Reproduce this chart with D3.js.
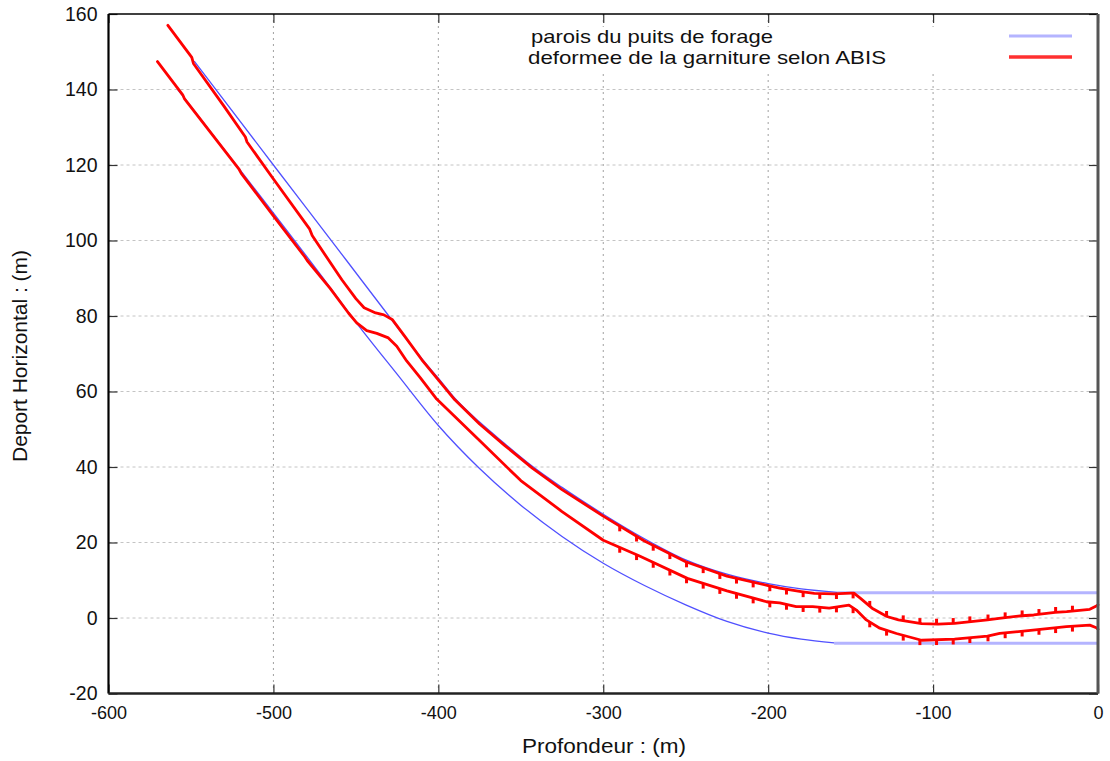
<!DOCTYPE html>
<html><head><meta charset="utf-8">
<script src="https://cdn.jsdelivr.net/npm/d3@7"></script>
<style>
body{margin:0;background:#fff}
svg{display:block}
text{font-family:"Liberation Sans",Arial,sans-serif;fill:#111}
</style>
</head><body>
<svg id="chart" width="1110" height="761"></svg>
<script>
// ---------- data ----------
const xTicks = [-600, -500, -400, -300, -200, -100, 0];
const yTicks = [-20, 0, 20, 40, 60, 80, 100, 120, 140, 160];
const xLabel = "Profondeur : (m)";
const yLabel = "Deport Horizontal : (m)";
const legendLabels = ["parois du puits de forage", "deformee de la garniture selon ABIS"];

// well-bore walls (profondeur, deport)
const wallUpper = [
  [-548, 147.5], [-500, 120.0], [-456, 94.9], [-430, 80.0], [-410, 68.7],
  [-400, 63.5], [-390, 58.2], [-375, 51.9], [-360, 46.3], [-343, 40.2],
  [-325, 34.6], [-300, 27.5], [-275, 21.0], [-250, 15.4], [-225, 11.6],
  [-200, 9.1], [-180, 7.7], [-158, 6.8]
];
const wallUpperFlat = [[-158, 6.7], [0, 6.7]];
const wallLower = [
  [-558, 140.0], [-520, 118.6], [-466, 87.8], [-450, 78.4], [-425, 64.6],
  [-400, 51.0], [-375, 39.6], [-350, 29.9], [-325, 21.6], [-300, 14.5],
  [-275, 8.6], [-250, 3.5], [-225, -0.9], [-200, -4.0], [-180, -5.6],
  [-160, -6.6]
];
const wallLowerFlat = [[-160, -6.7], [0, -6.7]];

// deformed drill string (upper and lower edges)
const stringUpper = [
  [-564, 157.0], [-549.5, 148.5], [-548.5, 146.9], [-530, 135.6], [-517, 127.4],
  [-516, 126.1], [-500, 116.3], [-478, 103.0], [-476.5, 101.3], [-458.5, 89.6],
  [-450, 84.6], [-445, 82.2], [-438, 80.8], [-433, 80.3], [-428, 79.1],
  [-420, 74.4], [-410, 68.4], [-400, 63.1], [-390, 57.8], [-375, 51.4],
  [-360, 45.8], [-343, 39.7], [-325, 34.0], [-300, 27.0], [-275, 20.4],
  [-250, 14.9], [-225, 11.1], [-200, 8.6], [-193, 7.9], [-180, 7.0],
  [-172, 6.5], [-160, 6.4], [-150, 6.6], [-148, 6.6], [-144, 5.2],
  [-137, 2.6], [-128, 0.4], [-121, -0.5], [-107, -1.5], [-97, -1.6],
  [-87, -1.4], [-67, -0.5], [-60, -0.1], [-46, 0.6], [-39, 0.8],
  [-26, 1.5], [-19, 1.7], [-5, 2.3], [-1, 3.2], [0, 3.5]
];
const stringLower = [
  [-570.3, 147.4], [-555, 138.6], [-554, 137.6], [-521, 119.0], [-519.5, 117.8],
  [-500, 106.5], [-481, 95.7], [-479.5, 94.7], [-465.6, 87.3], [-454.5, 80.8],
  [-449.5, 78.2], [-443.4, 76.1], [-437.3, 75.4], [-430.3, 74.2], [-425.2, 72.0],
  [-419.2, 68.1], [-411, 63.7], [-401, 58.0], [-375, 47.0], [-350, 36.4],
  [-325, 28.2], [-300, 20.6], [-278, 16.4], [-249, 10.5],
  [-225, 7.2], [-201, 4.3], [-193, 4.0], [-183, 3.0], [-173, 3.0],
  [-163, 2.6], [-151, 3.4], [-146.5, 2.1], [-140.5, -0.5], [-132.3, -2.7],
  [-122.2, -4.1], [-107, -5.9], [-87, -5.6], [-67, -4.8], [-59.6, -4.1],
  [-39.4, -3.2], [-19.2, -2.3], [-5, -1.9], [-1, -2.6], [0, -3.0]
];
// tool-joint positions (small marks along the string)
const jointDepths = [-290, -279.8, -269.7, -259.6, -249.5, -239.4, -229.3, -219.2,
  -209.1, -199, -188.9, -178.8, -168.7, -158.6, -148.5, -138.4, -128.2, -118.1,
  -108, -97.9, -87.8, -77.7, -66.7, -56.3, -46, -35.8, -25.7, -15.5];
const jointMark = 1.4;

// ---------- drawing ----------
const svg = d3.select("#chart");
svg.append("rect").attr("width", 1110).attr("height", 761).attr("fill", "#fff");

const x = d3.scaleLinear().domain([-600, 0]).range([108.5, 1098]);
const y = d3.scaleLinear().domain([-20, 160]).range([693.5, 14]);
const [x0, x1] = x.range();
const [y0, y1] = y.range();
const fmt = d => String(d);

// grid
const grid = svg.append("g");
grid.selectAll("line.v").data(xTicks.slice(1, -1)).join("line")
  .attr("x1", d => x(d)).attr("x2", d => x(d)).attr("y1", y1).attr("y2", y0)
  .attr("stroke", "#a0a0a0").attr("stroke-width", 1).attr("stroke-dasharray", "2,4");
grid.selectAll("line.h").data(yTicks.slice(1, -1)).join("line")
  .attr("x1", x0).attr("x2", x1).attr("y1", d => y(d)).attr("y2", d => y(d))
  .attr("stroke", "#c4c4c4").attr("stroke-width", 1).attr("stroke-dasharray", "3,3");

// legend background (opaque key)
svg.append("rect").attr("x", 520).attr("y", 27).attr("width", 570).attr("height", 44).attr("fill", "#fff");

// axes (ticks inward, mirrored)
const axB = svg.append("g").attr("transform", `translate(0,${y0})`)
  .call(d3.axisBottom(x).tickValues(xTicks).tickSize(-9).tickPadding(13).tickFormat(fmt));
const axT = svg.append("g").attr("transform", `translate(0,${y1})`)
  .call(d3.axisTop(x).tickValues(xTicks).tickSize(-9).tickFormat(""));
const axL = svg.append("g").attr("transform", `translate(${x0},0)`)
  .call(d3.axisLeft(y).tickValues(yTicks).tickSize(-9).tickPadding(11).tickFormat(fmt));
const axR = svg.append("g").attr("transform", `translate(${x1},0)`)
  .call(d3.axisRight(y).tickValues(yTicks).tickSize(-9).tickFormat(""));
[axB, axT, axL, axR].forEach(a => {
  a.select(".domain").remove();
  a.selectAll(".tick line").attr("stroke", "#333").attr("stroke-width", 1.2);
  a.selectAll("text").attr("font-size", 19.5).attr("fill", "#111")
    .attr("font-family", '"Liberation Sans",Arial,sans-serif');
});
axB.selectAll("text").attr("font-size", 18);

// walls
const line = d3.line().x(d => x(d[0])).y(d => y(d[1])).curve(d3.curveMonotoneX);
const plot = svg.append("g");
plot.append("path").attr("d", line(wallUpperFlat)).attr("fill", "none")
  .attr("stroke", "#b4b4ff").attr("stroke-width", 3);
plot.append("path").attr("d", line(wallLowerFlat)).attr("fill", "none")
  .attr("stroke", "#b4b4ff").attr("stroke-width", 3);
plot.append("path").attr("d", line(wallUpper)).attr("fill", "none")
  .attr("stroke", "#5050ff").attr("stroke-width", 1.3);
plot.append("path").attr("d", line(wallLower)).attr("fill", "none")
  .attr("stroke", "#5050ff").attr("stroke-width", 1.3);

// drill string
const lineS = d3.line().x(d => x(d[0])).y(d => y(d[1])).curve(d3.curveLinear);
[stringUpper, stringLower].forEach(s => {
  plot.append("path").attr("d", lineS(s)).attr("fill", "none")
    .attr("stroke", "#ff0000").attr("stroke-width", 2.8)
    .attr("stroke-linejoin", "round").attr("stroke-linecap", "round");
});
function interp(s, xv) {
  for (let i = 0; i < s.length - 1; i++) {
    if (xv >= s[i][0] && xv <= s[i + 1][0]) {
      const t = (xv - s[i][0]) / (s[i + 1][0] - s[i][0]);
      return s[i][1] + t * (s[i + 1][1] - s[i][1]);
    }
  }
  return s[s.length - 1][1];
}
plot.selectAll("line.ju").data(jointDepths).join("line")
  .attr("x1", d => x(d)).attr("x2", d => x(d))
  .attr("y1", d => y(interp(stringUpper, d)))
  .attr("y2", d => y(interp(stringUpper, d) + (d < -145 ? -jointMark : jointMark)))
  .attr("stroke", "#ff0000").attr("stroke-width", 3);
plot.selectAll("line.jl").data(jointDepths).join("line")
  .attr("x1", d => x(d)).attr("x2", d => x(d))
  .attr("y1", d => y(interp(stringLower, d)))
  .attr("y2", d => y(interp(stringLower, d) - jointMark))
  .attr("stroke", "#ff0000").attr("stroke-width", 3);

// frame
const frame = svg.append("g").attr("fill", "none");
frame.append("line").attr("x1", x0).attr("x2", x1).attr("y1", y1).attr("y2", y1).attr("stroke", "#000").attr("stroke-width", 1.5);
frame.append("line").attr("x1", x0).attr("x2", x0).attr("y1", y1).attr("y2", y0).attr("stroke", "#000").attr("stroke-width", 2.2);
frame.append("line").attr("x1", x0).attr("x2", x1).attr("y1", y0).attr("y2", y0).attr("stroke", "#222").attr("stroke-width", 2.5);
frame.append("line").attr("x1", x1).attr("x2", x1).attr("y1", y1).attr("y2", y0).attr("stroke", "#555").attr("stroke-width", 3);

// legend
const leg = svg.append("g");
const legColors = [["#b4b4ff", 3], ["#ff3030", 3.5]];
const legWidths = [242, 358];
legendLabels.forEach((t, i) => {
  leg.append("text").attr("x", i === 0 ? 531 : 528).attr("y", 43 + i * 21)
    .attr("font-size", 18.5).attr("textLength", legWidths[i])
    .attr("lengthAdjust", "spacingAndGlyphs").text(t);
  leg.append("line").attr("x1", 1009).attr("x2", 1072)
    .attr("y1", 36 + i * 21).attr("y2", 36 + i * 21)
    .attr("stroke", legColors[i][0]).attr("stroke-width", legColors[i][1]);
});

// axis titles
svg.append("text").attr("x", 604).attr("y", 753).attr("text-anchor", "middle")
  .attr("font-size", 20.5).attr("textLength", 164).attr("lengthAdjust", "spacingAndGlyphs").text(xLabel);
svg.append("text").attr("transform", "translate(27,356) rotate(-90)")
  .attr("text-anchor", "middle").attr("font-size", 20.5)
  .attr("textLength", 212).attr("lengthAdjust", "spacingAndGlyphs").text(yLabel);
</script>
</body></html>
